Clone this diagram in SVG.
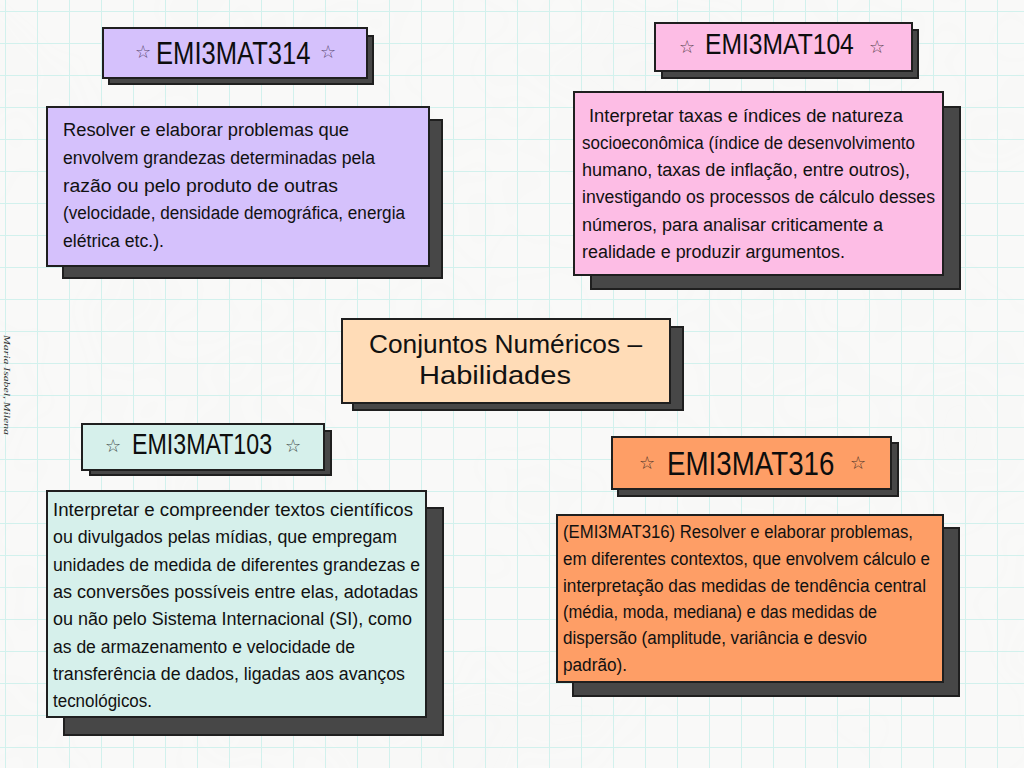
<svg xmlns="http://www.w3.org/2000/svg" width="1024" height="768" viewBox="0 0 1024 768">
  <defs>
    <pattern id="grid" x="5" y="11" width="32" height="32" patternUnits="userSpaceOnUse">
      <path d="M0 0.5H32M0.5 0V32" fill="none" stroke="#d2f1ed" stroke-width="1"/>
    </pattern>
    <filter id="paper" x="0" y="0" width="100%" height="100%">
      <feTurbulence type="fractalNoise" baseFrequency="0.006" numOctaves="3" seed="7" result="n"/>
      <feColorMatrix in="n" type="matrix" values="0 0 0 0 0.55  0 0 0 0 0.55  0 0 0 0 0.55  0 0 0 -0.9 0.55"/>
    </filter>
    <style>
      .frame { stroke: #1f1f1f; stroke-width: 2; }
      .shadow { fill: #474747; stroke: #1f1f1f; stroke-width: 2; }
      .body { font-family: "Liberation Sans", Arial, sans-serif; font-size: 18px; fill: #111; }
      .title { font-family: "Liberation Sans", Arial, sans-serif; fill: #0d0d0d; }
      .star { font-family: "DejaVu Sans", sans-serif; font-size: 18px; text-anchor: middle; }
      .center { font-family: "Liberation Sans", Arial, sans-serif; font-size: 25px; fill: #111; }
    </style>
  </defs>

  <!-- paper background with light grid -->
  <g id="background">
    <rect width="1024" height="768" fill="#f9f9f8"/>
    <rect width="1024" height="768" filter="url(#paper)" opacity="0.06"/>
    <rect width="1024" height="768" fill="url(#grid)"/>
  </g>

  <!-- author signature -->
  <text transform="translate(4,335) rotate(90)" font-family="Liberation Serif, serif" font-style="italic" font-size="9" fill="#333" textLength="100" lengthAdjust="spacingAndGlyphs">Maria Isabel, Milena</text>

  <!-- EMI3MAT314 -->
  <g id="title-314">
    <rect class="shadow" x="109" y="36" width="264" height="48"/>
    <rect class="frame" x="103" y="28" width="264" height="50" fill="#d5c1fc"/>
    <text class="star" x="143" y="58" fill="#5b4a72">☆</text>
    <text class="title" transform="translate(156,64) scale(0.8,1)" font-size="32">EMI3MAT314</text>
    <text class="star" x="328" y="58" fill="#5b4a72">☆</text>
  </g>
  <g id="skill-314">
    <rect class="shadow" x="63" y="120" width="379" height="158"/>
    <rect class="frame" x="47" y="107" width="382" height="159" fill="#d5c1fc"/>
    <text class="body" x="63" y="136" textLength="286" lengthAdjust="spacingAndGlyphs">Resolver e elaborar problemas que</text>
    <text class="body" x="63" y="164" textLength="312" lengthAdjust="spacingAndGlyphs">envolvem grandezas determinadas pela</text>
    <text class="body" x="63" y="192" textLength="275" lengthAdjust="spacingAndGlyphs">razão ou pelo produto de outras</text>
    <text class="body" x="63" y="219" textLength="342" lengthAdjust="spacingAndGlyphs">(velocidade, densidade demográfica, energia</text>
    <text class="body" x="63" y="247" textLength="101" lengthAdjust="spacingAndGlyphs">elétrica etc.).</text>
  </g>

  <!-- EMI3MAT104 -->
  <g id="title-104">
    <rect class="shadow" x="662" y="30" width="256" height="48"/>
    <rect class="frame" x="655" y="23" width="257" height="48" fill="#fdbde5"/>
    <text class="star" x="687" y="53" fill="#5a4450">☆</text>
    <text class="title" transform="translate(705,54) scale(0.85,1)" font-size="29">EMI3MAT104</text>
    <text class="star" x="877" y="53" fill="#5a4450">☆</text>
  </g>
  <g id="skill-104">
    <rect class="shadow" x="591" y="107" width="369" height="182"/>
    <rect class="frame" x="574" y="92" width="369" height="183" fill="#fdbde5"/>
    <text class="body" x="589" y="122" textLength="314" lengthAdjust="spacingAndGlyphs">Interpretar taxas e índices de natureza</text>
    <text class="body" x="582" y="149" textLength="333" lengthAdjust="spacingAndGlyphs">socioeconômica (índice de desenvolvimento</text>
    <text class="body" x="582" y="176" textLength="328" lengthAdjust="spacingAndGlyphs">humano, taxas de inflação, entre outros),</text>
    <text class="body" x="582" y="203" textLength="353" lengthAdjust="spacingAndGlyphs">investigando os processos de cálculo desses</text>
    <text class="body" x="582" y="231" textLength="301" lengthAdjust="spacingAndGlyphs">números, para analisar criticamente a</text>
    <text class="body" x="582" y="258" textLength="263" lengthAdjust="spacingAndGlyphs">realidade e produzir argumentos.</text>
  </g>

  <!-- central topic -->
  <g id="topic">
    <rect class="shadow" x="353" y="327" width="330" height="83"/>
    <rect class="frame" x="342" y="319" width="328" height="84" fill="#ffdcb7"/>
    <text class="center" x="369" y="353" textLength="273" lengthAdjust="spacingAndGlyphs">Conjuntos Numéricos –</text>
    <text class="center" x="419" y="384" textLength="152" lengthAdjust="spacingAndGlyphs">Habilidades</text>
  </g>

  <!-- EMI3MAT103 -->
  <g id="title-103">
    <rect class="shadow" x="90" y="431" width="241" height="44"/>
    <rect class="frame" x="82" y="424" width="242" height="46" fill="#d6f0eb"/>
    <text class="star" x="113" y="452" fill="#3f4a48">☆</text>
    <text class="title" transform="translate(132,454) scale(0.8,1)" font-size="29">EMI3MAT103</text>
    <text class="star" x="293" y="452" fill="#3f4a48">☆</text>
  </g>
  <g id="skill-103">
    <rect class="shadow" x="64" y="508" width="379" height="227"/>
    <rect class="frame" x="47" y="491" width="379" height="226" fill="#d6f0eb"/>
    <text class="body" x="53" y="516" textLength="360" lengthAdjust="spacingAndGlyphs">Interpretar e compreender textos científicos</text>
    <text class="body" x="53" y="543" textLength="344" lengthAdjust="spacingAndGlyphs">ou divulgados pelas mídias, que empregam</text>
    <text class="body" x="53" y="571" textLength="367" lengthAdjust="spacingAndGlyphs">unidades de medida de diferentes grandezas e</text>
    <text class="body" x="53" y="598" textLength="365" lengthAdjust="spacingAndGlyphs">as conversões possíveis entre elas, adotadas</text>
    <text class="body" x="53" y="625" textLength="359" lengthAdjust="spacingAndGlyphs">ou não pelo Sistema Internacional (SI), como</text>
    <text class="body" x="53" y="653" textLength="302" lengthAdjust="spacingAndGlyphs">as de armazenamento e velocidade de</text>
    <text class="body" x="53" y="680" textLength="352" lengthAdjust="spacingAndGlyphs">transferência de dados, ligadas aos avanços</text>
    <text class="body" x="53" y="707" textLength="99" lengthAdjust="spacingAndGlyphs">tecnológicos.</text>
  </g>

  <!-- EMI3MAT316 -->
  <g id="title-316">
    <rect class="shadow" x="618" y="443" width="280" height="53"/>
    <rect class="frame" x="612" y="437" width="279" height="52" fill="#fe9e66"/>
    <text class="star" x="647" y="469" fill="#4a3428">☆</text>
    <text class="title" transform="translate(667,475) scale(0.84,1)" font-size="33">EMI3MAT316</text>
    <text class="star" x="858" y="469" fill="#4a3428">☆</text>
  </g>
  <g id="skill-316">
    <rect class="shadow" x="573" y="528" width="386" height="168"/>
    <rect class="frame" x="557" y="515" width="386" height="167" fill="#fe9e66"/>
    <text class="body" x="563" y="538" textLength="350" lengthAdjust="spacingAndGlyphs">(EMI3MAT316) Resolver e elaborar problemas,</text>
    <text class="body" x="563" y="565" textLength="367" lengthAdjust="spacingAndGlyphs">em diferentes contextos, que envolvem cálculo e</text>
    <text class="body" x="563" y="592" textLength="363" lengthAdjust="spacingAndGlyphs">interpretação das medidas de tendência central</text>
    <text class="body" x="563" y="618" textLength="314" lengthAdjust="spacingAndGlyphs">(média, moda, mediana) e das medidas de</text>
    <text class="body" x="563" y="644" textLength="304" lengthAdjust="spacingAndGlyphs">dispersão (amplitude, variância e desvio</text>
    <text class="body" x="563" y="671" textLength="64" lengthAdjust="spacingAndGlyphs">padrão).</text>
  </g>
</svg>
